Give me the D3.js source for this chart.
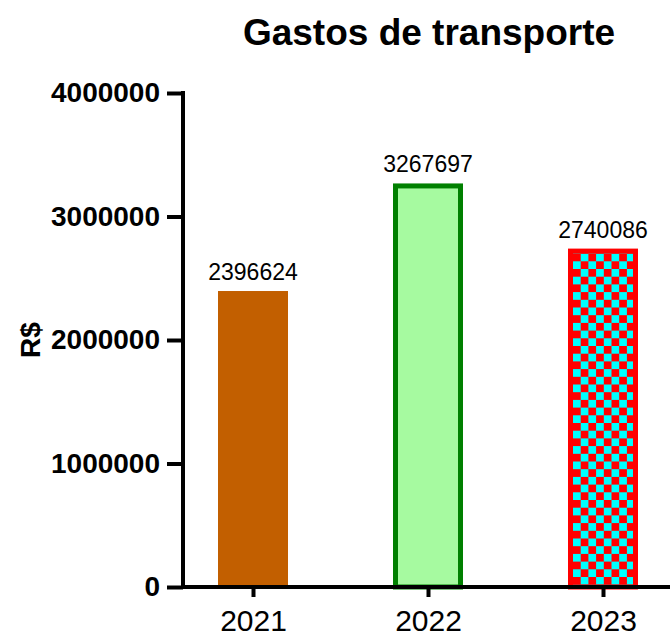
<!DOCTYPE html>
<html>
<head>
<meta charset="utf-8">
<script src="https://cdn.jsdelivr.net/npm/d3@7"></script>
<style>
  body { margin: 0; background: #fff; }
  svg { display: block; font-family: Arial, 'Liberation Sans', sans-serif; }
</style>
</head>
<body>
<div id="chart"></div>
<script>
// data
const years = ['2021', '2022', '2023'];
const gastos = [2396624, 3267697, 2740086];
const yTicks = [0, 1000000, 2000000, 3000000, 4000000];

const width = 670;
const height = 640;
const axisX = 183;   // y axis line
const axisY = 587;   // baseline

const svg = d3.select('#chart')
  .append('svg')
  .attr('width', width)
  .attr('height', height);

const x = d3.scalePoint().domain(years).range([253, 603]);
const y = d3.scaleLinear().domain([0, 4000000]).range([axisY, 93]);
const barW = 70;
const sw = 5;

// checker pattern for the last bar
const defs = svg.append('defs');
const cell = 7.7;
const pat = defs.append('pattern')
  .attr('id', 'checker')
  .attr('patternUnits', 'userSpaceOnUse')
  .attr('width', cell * 2)
  .attr('height', cell * 2)
  .attr('x', x('2023') - barW / 2 + sw)
  .attr('y', y(gastos[2]) + sw);
pat.append('rect').attr('width', cell * 2).attr('height', cell * 2).attr('fill', '#ff0000');
pat.append('rect').attr('x', cell).attr('y', 0).attr('width', cell).attr('height', cell).attr('fill', '#00ffff');
pat.append('rect').attr('x', 0).attr('y', cell).attr('width', cell).attr('height', cell).attr('fill', '#00ffff');

const styles = [
  { fill: '#c25f00', stroke: '#c25f00', w: 0 },
  { fill: '#a6faa0', stroke: '#008000', w: sw },
  { fill: 'url(#checker)', stroke: '#ff0000', w: sw }
];

// bars
const bars = svg.append('g');
years.forEach((yr, i) => {
  const st = styles[i];
  const top = y(gastos[i]);
  bars.append('rect')
    .attr('x', x(yr) - barW / 2 + st.w / 2)
    .attr('y', top + st.w / 2)
    .attr('width', barW - st.w)
    .attr('height', axisY - top - st.w / 2)
    .attr('fill', st.fill)
    .attr('stroke', st.w ? st.stroke : 'none')
    .attr('stroke-width', st.w);

  bars.append('text')
    .attr('x', x(yr))
    .attr('y', top - 11)
    .attr('text-anchor', 'middle')
    .attr('font-size', 23)
    .attr('fill', '#000')
    .text(gastos[i]);
});

// y axis
const yAxis = d3.axisLeft(y)
  .tickValues(yTicks)
  .tickFormat(d3.format('d'))
  .tickSize(16)
  .tickPadding(7);
const gy = svg.append('g')
  .attr('transform', `translate(${axisX},0)`)
  .call(yAxis);
gy.select('.domain')
  .attr('d', `M0,${y(4000000) - 2}V${axisY}`)
  .attr('stroke', '#000')
  .attr('stroke-width', 4);
gy.selectAll('.tick line').attr('stroke', '#000').attr('stroke-width', 4);
gy.selectAll('.tick text')
  .attr('font-size', 28)
  .attr('font-weight', 'bold')
  .attr('fill', '#000')
  .attr('font-family', 'Arial, Liberation Sans, sans-serif');

// x axis
const xAxis = d3.axisBottom(x).tickSize(10).tickPadding(13);
const gx = svg.append('g')
  .attr('transform', `translate(0,${axisY})`)
  .call(xAxis);
gx.select('.domain')
  .attr('d', `M${axisX}` + ',0H' + width)
  .attr('stroke', '#000')
  .attr('stroke-width', 4);
gx.selectAll('.tick line').attr('stroke', '#000').attr('stroke-width', 4);
gx.selectAll('.tick text')
  .attr('font-size', 30)
  .attr('fill', '#000')
  .attr('font-family', 'Arial, Liberation Sans, sans-serif');

// y label
svg.append('text')
  .attr('transform', `translate(40,340) rotate(-90)`)
  .attr('text-anchor', 'middle')
  .attr('font-size', 28)
  .attr('font-weight', 'bold')
  .text('R$');

// title
svg.append('text')
  .attr('x', 429)
  .attr('y', 45)
  .attr('text-anchor', 'middle')
  .attr('font-size', 37)
  .attr('font-weight', 'bold')
  .text('Gastos de transporte');
</script>
</body>
</html>
